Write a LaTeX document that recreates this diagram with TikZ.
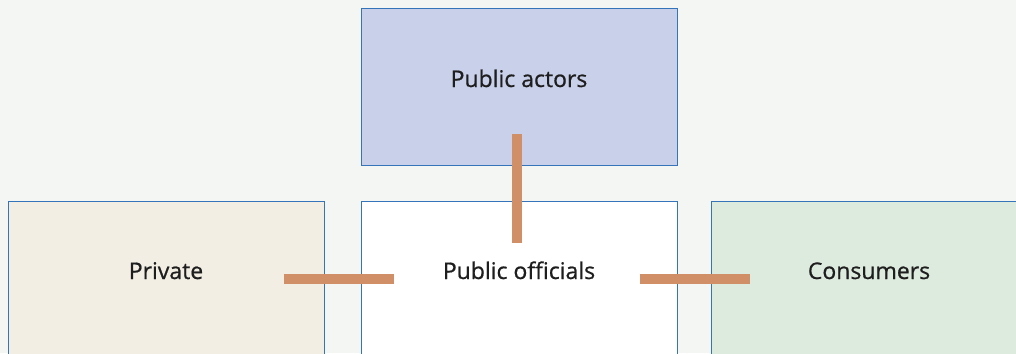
\documentclass[tikz,border=0pt]{standalone}
\usepackage{fontspec}
\newfontfamily\panelfont{Open Sans}[UprightFeatures={FakeBold=0.7}]
\usepackage{xcolor}
\usetikzlibrary{positioning}
\definecolor{bgcol}{HTML}{F4F6F3}
\definecolor{edgeblue}{HTML}{3574B8}
\definecolor{actorfill}{HTML}{C9D1EA}
\definecolor{privfill}{HTML}{F2EEE4}
\definecolor{consfill}{HTML}{DDEBDF}
\definecolor{linkcol}{HTML}{D08F66}
\definecolor{txtcol}{HTML}{1E1E1E}
\tikzset{%
panel/.style={draw=edgeblue,line width=1pt,rectangle,minimum width=316pt,minimum height=156pt,
  text height=17pt,text depth=17pt,inner sep=0pt,text=txtcol,font=\panelfont\fontsize{23}{27}\selectfont},
link/.style={draw=linkcol,line width=10.5pt},
}

\begin{document}
\begin{tikzpicture}[x=1pt,y=-1pt]

    \clip (0,0) rectangle (1016,353);
    \fill[bgcol] (0,0) rectangle (1016,353);

    \node[panel,fill=actorfill] (actors) at (519,87) {Public actors};
    \node[panel,fill=white] (officials) [below=35pt of actors] {Public officials};
    \node[panel,fill=privfill] (private) [left=36pt of officials] {Private};
    \node[panel,fill=consfill] (consumers) [right=33pt of officials] {Consumers};

    \draw[link] ([xshift=-2pt,yshift=32pt]actors.south) -- ([xshift=-2pt,yshift=-42pt]officials.north);
    \draw[link] ([xshift=-41pt]private.east) -- ([xshift=33pt]officials.west);
    \draw[link] ([xshift=-38pt]officials.east) -- ([xshift=39pt]consumers.west);

  \end{tikzpicture}
\end{document}
